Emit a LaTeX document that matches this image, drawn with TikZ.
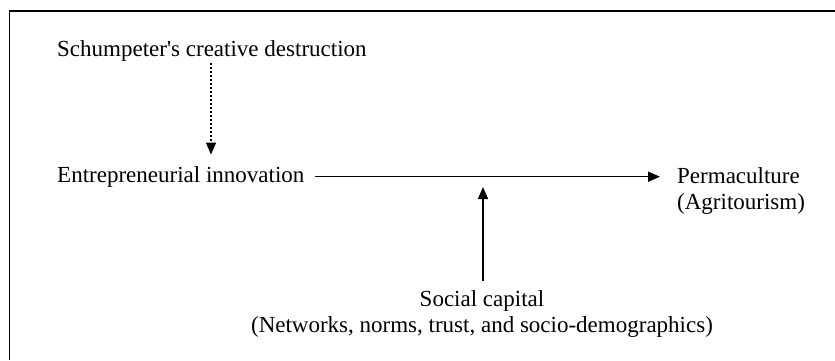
\documentclass[tikz,border=0pt]{standalone}
\usepackage{fontspec}
\setmainfont{Liberation Serif}
\usepackage{tikz}
\usetikzlibrary{positioning,arrows.meta}

\begin{document}
\begin{tikzpicture}[x=1pt,y=-1pt,
	every node/.style={inner sep=0pt,font=\fontsize{23}{26}\selectfont},
	factnode/.style={anchor=base west},
	twonode/.style={align=left,anchor=north west},
	capnode/.style={align=center,anchor=north},
	link/.style={line width=1.5pt,-{Triangle[length=12pt,width=10pt]}},
	dotlink/.style={link,dash pattern=on 2pt off 2pt},
	frameline/.style={line width=1.6pt},
	]
	\useasboundingbox (0,0) rectangle (835,360);
	
	% the frame (cut at right and bottom)
	\draw[frameline] (9.5,360) -- (9.5,11) -- (835,11);
	
	% the factors
	\node[factnode] (schum) at (57,56.5) {Schumpeter\textquotesingle s creative destruction};
	\node[factnode] (entre) at (57,182) {Entrepreneurial innovation};
	\node[twonode] (perma) at (677,167) {Permaculture\\(Agritourism)};
	\node[capnode] (social) at (482,290) {Social capital\\(Networks, norms, trust, and socio-demographics)};
	
	% the point where social capital meets
	\coordinate (meet) at (483,187);
	
	% edges
	\draw[dotlink,shorten <=1.5pt,shorten >=11.3pt] ([xshift=154pt]schum.south west) -- ([xshift=154pt]entre.north west);
	\draw[link,shorten <=10pt,shorten >=17pt] ([yshift=5.3pt]entre.base east) -- ([yshift=5.3pt]entre.base east -| perma.west);
	\draw[link,shorten <=9pt] (social.north -| meet) -- (meet);
	
\end{tikzpicture}
\end{document}
